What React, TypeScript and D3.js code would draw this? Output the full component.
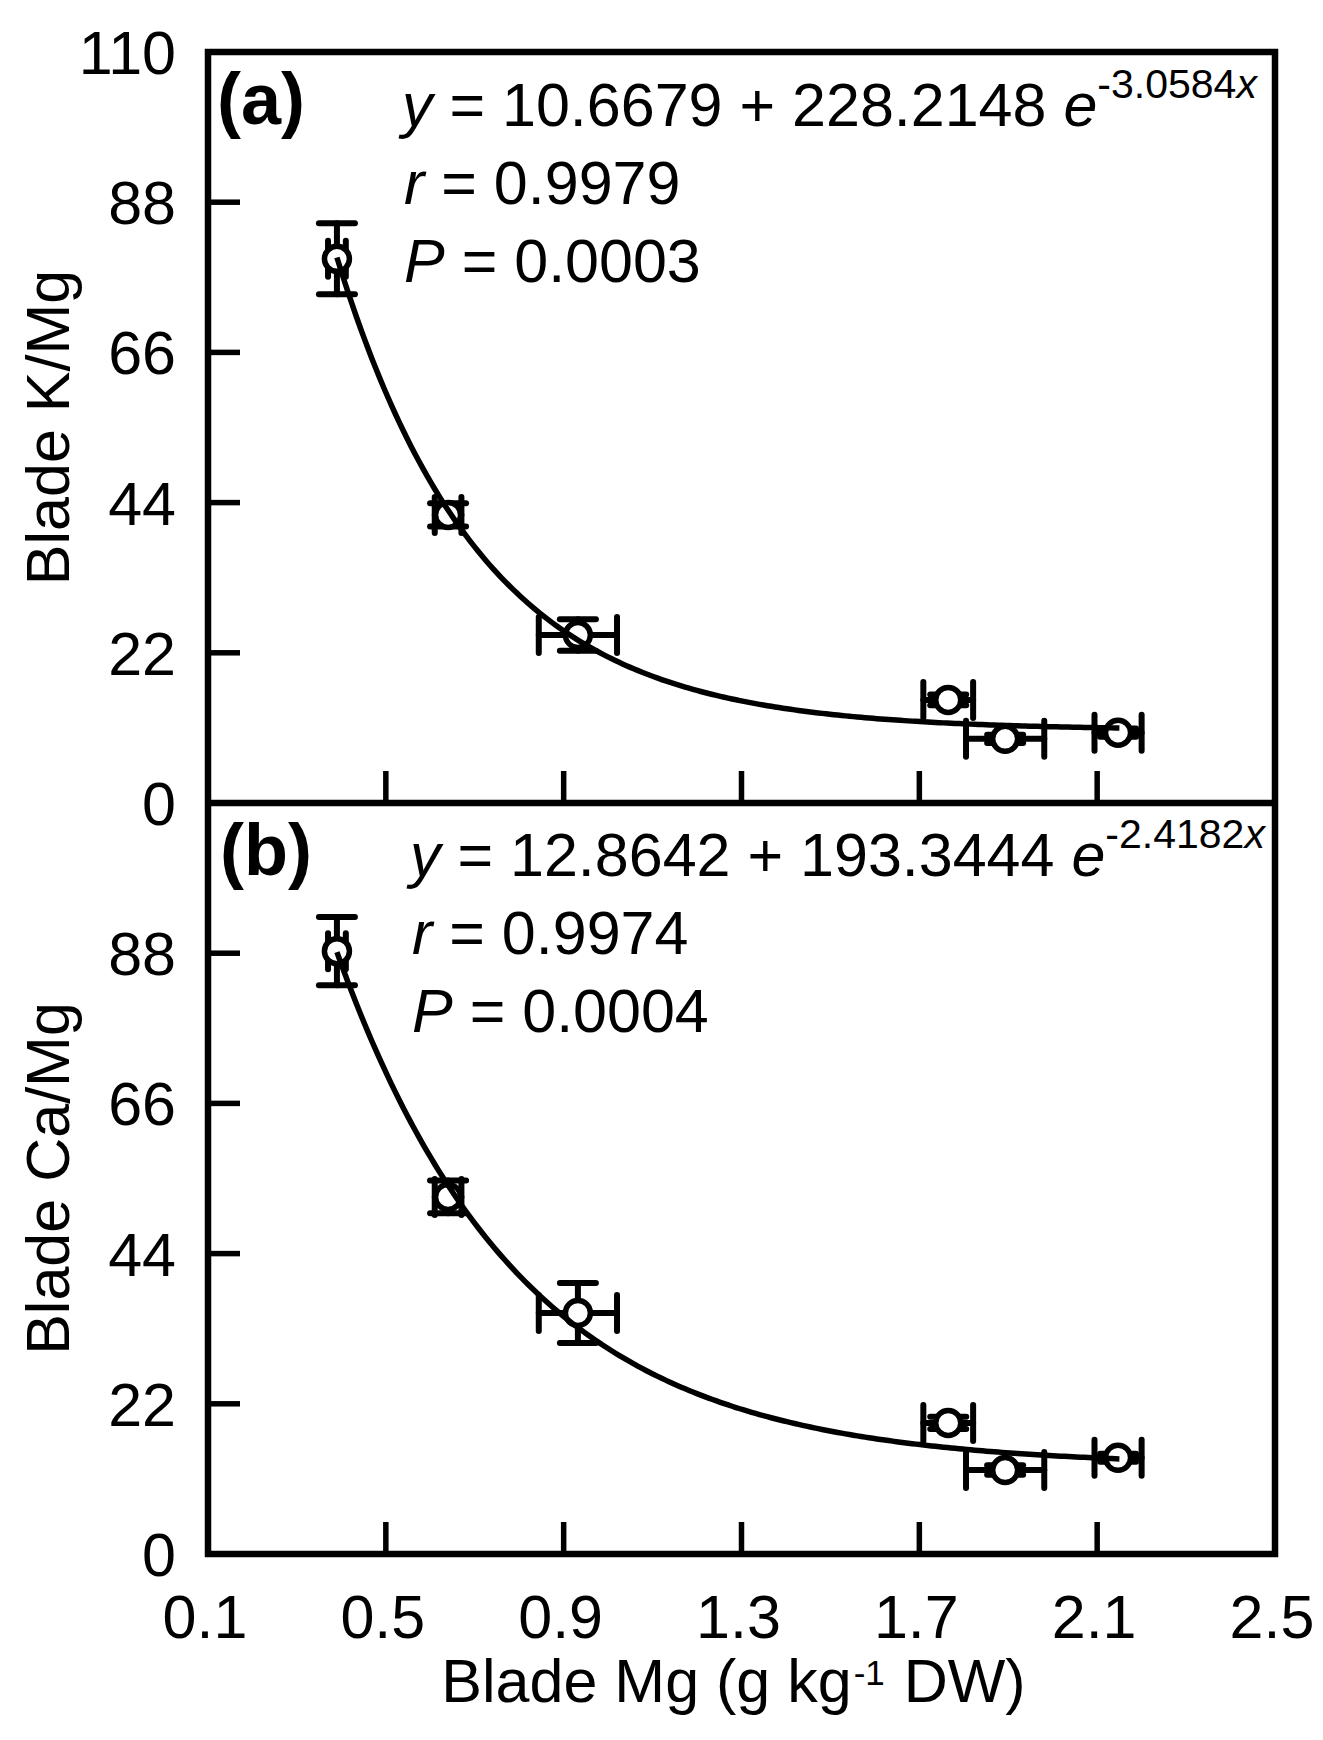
import React from "react";
import * as d3 from "d3";

const W = 1323;
const H = 1740;

const xTicks = [0.1, 0.5, 0.9, 1.3, 1.7, 2.1, 2.5];
const yTicksA = [0, 22, 44, 66, 88, 110];
const yTicksB = [0, 22, 44, 66, 88];

// Panel (a): Blade K/Mg
const aX = [0.39, 0.64, 0.932, 1.765, 1.893, 2.147];
const aY = [79.7, 42.2, 24.6, 15.1, 9.4, 10.3];
const aXErr = [0.02, 0.03, 0.088, 0.056, 0.088, 0.053];
const aYErr = [5.2, 1.7, 2.3, 0.8, 0.6, 0.6];
const aFit = { a: 10.6679, b: 228.2148, k: -3.0584 };

// Panel (b): Blade Ca/Mg
const bX = [0.39, 0.64, 0.932, 1.765, 1.893, 2.147];
const bY = [88.3, 52.3, 35.3, 19.2, 12.3, 14.1];
const bXErr = [0.02, 0.03, 0.088, 0.056, 0.088, 0.053];
const bYErr = [5.0, 2.4, 4.4, 0.9, 0.7, 0.6];
const bFit = { a: 12.8642, b: 193.3444, k: -2.4182 };

const FONT = "'Liberation Sans', Arial, Helvetica, sans-serif";

const left = 208;
const right = 1275;
const topA = 52;
const mid = 803;
const bottom = 1554;

const x = d3.scaleLinear().domain([0.1, 2.5]).range([left, right]);
const yA = d3.scaleLinear().domain([0, 110]).range([mid, topA]);
const yB = d3.scaleLinear().domain([0, 110]).range([bottom, mid]);

type PanelProps = {
  y: d3.ScaleLinear<number, number>;
  xs: number[];
  ys: number[];
  xe: number[];
  ye: number[];
  fit: { a: number; b: number; k: number };
};

function Panel({ y, xs, ys, xe, ye, fit }: PanelProps) {
  const f = (v: number) => fit.a + fit.b * Math.exp(fit.k * v);
  const samples = d3.range(0, 201).map((i) => 0.39 + ((2.15 - 0.39) * i) / 200);
  const line = d3
    .line<number>()
    .x((v) => x(v))
    .y((v) => y(f(v)));
  const cap = 18;
  const sw = 6;
  return (
    <g>
      {xs.map((xv, i) => {
        const cx = x(xv);
        const cy = y(ys[i]);
        const x1 = x(xv - xe[i]);
        const x2 = x(xv + xe[i]);
        const y1 = y(ys[i] + ye[i]);
        const y2 = y(ys[i] - ye[i]);
        return (
          <g key={i} stroke="#000" strokeWidth={sw} strokeLinecap="round">
            <line x1={x1} x2={x2} y1={cy} y2={cy} />
            <line x1={x1} x2={x1} y1={cy - cap} y2={cy + cap} />
            <line x1={x2} x2={x2} y1={cy - cap} y2={cy + cap} />
            <line x1={cx} x2={cx} y1={y1} y2={y2} />
            <line x1={cx - cap} x2={cx + cap} y1={y1} y2={y1} />
            <line x1={cx - cap} x2={cx + cap} y1={y2} y2={y2} />
          </g>
        );
      })}
      {xs.map((xv, i) => (
        <circle
          key={"c" + i}
          cx={x(xv)}
          cy={y(ys[i])}
          r={12.5}
          fill="#fff"
          stroke="#000"
          strokeWidth={5.5}
        />
      ))}
      <path d={line(samples) || ""} fill="none" stroke="#000" strokeWidth={5.5} />
    </g>
  );
}

export default function App() {
  const tickLen = 32;
  const fs = 61;
  const supFs = 41;
  return (
    <svg
      width={W}
      height={H}
      style={{ position: "absolute", left: 0, top: 0, background: "#fff" }}
      fontFamily={FONT}
    >
      <rect x={0} y={0} width={W} height={H} fill="#fff" />

      {/* ticks */}
      <g stroke="#000" strokeWidth={5.5}>
        {yTicksA
          .filter((t) => t > 0 && t < 110)
          .map((t) => (
            <line key={"ya" + t} x1={left} x2={left + tickLen} y1={yA(t)} y2={yA(t)} />
          ))}
        {yTicksB
          .filter((t) => t > 0)
          .map((t) => (
            <line key={"yb" + t} x1={left} x2={left + tickLen} y1={yB(t)} y2={yB(t)} />
          ))}
        {xTicks
          .filter((t) => t > 0.1 && t < 2.5)
          .map((t) => (
            <g key={"x" + t}>
              <line x1={x(t)} x2={x(t)} y1={mid} y2={mid - tickLen} />
              <line x1={x(t)} x2={x(t)} y1={bottom} y2={bottom - tickLen} />
            </g>
          ))}
      </g>

      <Panel y={yA} xs={aX} ys={aY} xe={aXErr} ye={aYErr} fit={aFit} />
      <Panel y={yB} xs={bX} ys={bY} xe={bXErr} ye={bYErr} fit={bFit} />

      {/* frames */}
      <g fill="none" stroke="#000" strokeWidth={6.5} strokeLinejoin="miter">
        <rect x={left} y={topA} width={right - left} height={bottom - topA} />
        <line x1={left} x2={right} y1={mid} y2={mid} />
      </g>

      {/* y tick labels */}
      <g fontSize={fs} textAnchor="end" fill="#000">
        {yTicksA.map((t) => (
          <text key={"la" + t} x={176} y={yA(t)} dy="0.36em">
            {t}
          </text>
        ))}
        {yTicksB
          .filter((t) => t > 0)
          .map((t) => (
            <text key={"lb" + t} x={176} y={yB(t)} dy="0.36em">
              {t}
            </text>
          ))}
        <text x={176} y={yB(0)} dy="0.36em">
          0
        </text>
      </g>

      {/* x tick labels */}
      <g fontSize={fs} textAnchor="middle" fill="#000">
        {xTicks.map((t) => (
          <text key={"lx" + t} x={x(t) - 3} y={1638}>
            {t.toFixed(1)}
          </text>
        ))}
      </g>

      {/* axis titles */}
      <text
        transform={`translate(69, ${(topA + mid) / 2}) rotate(-90)`}
        textAnchor="middle"
        fontSize={fs}
      >
        Blade K/Mg
      </text>
      <text
        transform={`translate(69, ${(mid + bottom) / 2}) rotate(-90)`}
        textAnchor="middle"
        fontSize={fs}
      >
        Blade Ca/Mg
      </text>
      <text x={(left + right) / 2 - 8} y={1702} textAnchor="middle" fontSize={fs}>
        Blade Mg (g kg
        <tspan fontSize={35} dx={2} dy={-17}>
          -1
        </tspan>
        <tspan dx={2} dy={17}> DW)</tspan>
      </text>

      {/* panel labels */}
      <text x={217} y={124} fontSize={72} fontWeight="bold">
        (a)
      </text>
      <text x={220} y={875} fontSize={72} fontWeight="bold">
        (b)
      </text>

      {/* equations */}
      <g fontSize={fs} fill="#000">
        <text x={402} y={126}>
          <tspan fontStyle="italic">y</tspan> = 10.6679 + 228.2148{" "}
          <tspan fontStyle="italic">e</tspan>
          <tspan fontSize={supFs} dy={-28}>
            -3.0584
          </tspan>
          <tspan fontSize={supFs} fontStyle="italic">
            x
          </tspan>
        </text>
        <text x={404} y={204}>
          <tspan fontStyle="italic">r</tspan> = 0.9979
        </text>
        <text x={404} y={282}>
          <tspan fontStyle="italic">P</tspan> = 0.0003
        </text>

        <text x={410} y={876}>
          <tspan fontStyle="italic">y</tspan> = 12.8642 + 193.3444{" "}
          <tspan fontStyle="italic">e</tspan>
          <tspan fontSize={supFs} dy={-28}>
            -2.4182
          </tspan>
          <tspan fontSize={supFs} fontStyle="italic">
            x
          </tspan>
        </text>
        <text x={412} y={954}>
          <tspan fontStyle="italic">r</tspan> = 0.9974
        </text>
        <text x={412} y={1032}>
          <tspan fontStyle="italic">P</tspan> = 0.0004
        </text>
      </g>
    </svg>
  );
}
